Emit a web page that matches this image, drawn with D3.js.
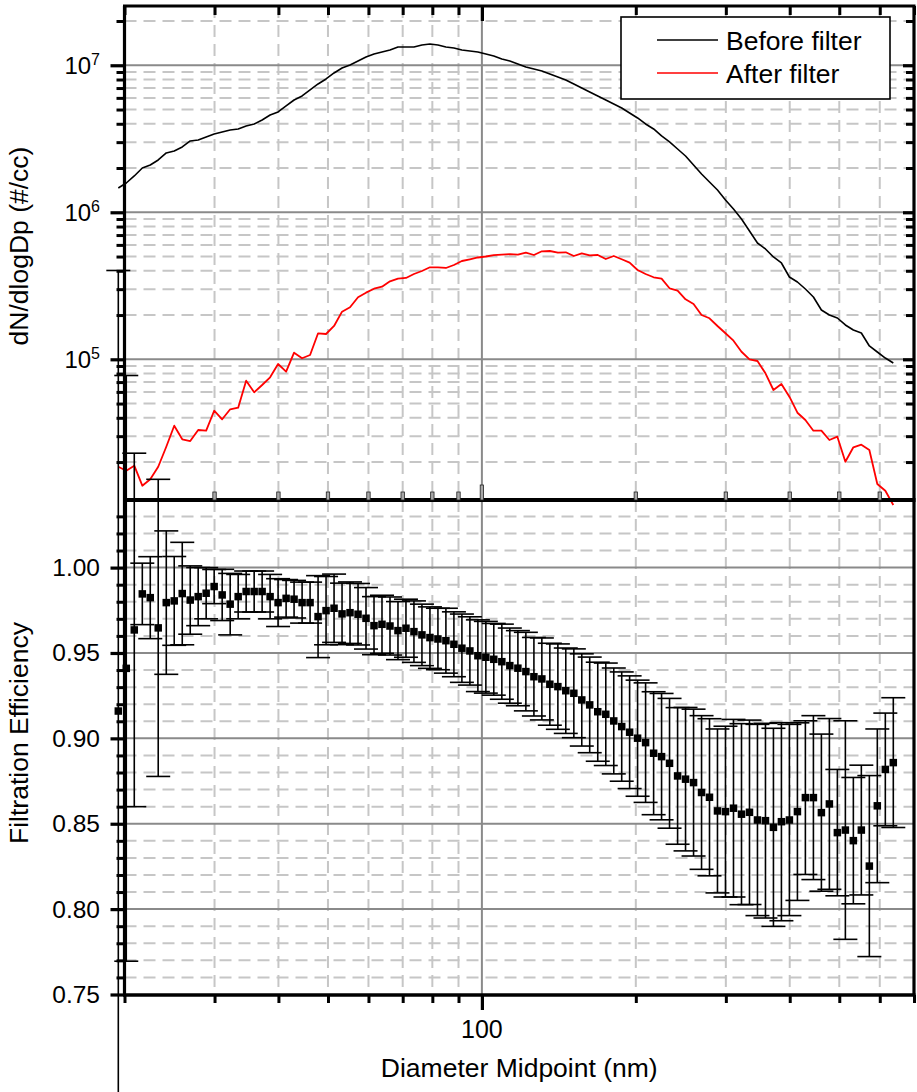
<!DOCTYPE html>
<html>
<head>
<meta charset="utf-8">
<script src="https://cdn.jsdelivr.net/npm/d3@7"></script>
<style>
  body { margin: 0; background: #fff; }
  svg { display: block; font-family: "Liberation Sans", Arial, sans-serif; }
</style>
</head>
<body>
<svg id="chart" width="917" height="1092"></svg>
<script>
// Diameter midpoints (nm), 64 channels per decade
const diameters = [
  19.45, 20.16, 20.90, 21.67, 22.46, 23.28, 24.14, 25.02, 25.94, 26.89,
  27.87, 28.89, 29.95, 31.05, 32.19, 33.37, 34.59, 35.86, 37.17, 38.53,
  39.94, 41.41, 42.92, 44.50, 46.13, 47.82, 49.57, 51.39, 53.27, 55.22,
  57.25, 59.34, 61.52, 63.77, 66.11, 68.53, 71.04, 73.64, 76.34, 79.14,
  82.04, 85.04, 88.16, 91.39, 94.74, 98.21, 101.8, 105.5, 109.4, 113.4,
  117.6, 121.9, 126.4, 131.0, 135.8, 140.8, 145.9, 151.3, 156.8, 162.5,
  168.5, 174.7, 181.1, 187.7, 194.5, 201.6, 209.0, 216.7, 224.6, 232.8,
  241.4, 250.2, 259.4, 268.9, 278.7, 288.9, 299.5, 310.5, 321.9, 333.7,
  345.9, 358.6, 371.7, 385.3, 399.4, 414.1, 429.2, 445.0, 461.3, 478.2,
  495.7, 513.9, 532.7, 552.2, 572.5, 593.4, 615.2, 637.7
];

// dN/dlogDp upstream of the filter (#/cc)
const beforeFilter = [
  1.463e6, 1.582e6, 1.766e6, 2.001e6, 2.098e6, 2.269e6, 2.532e6, 2.612e6, 2.782e6, 3.055e6,
  3.103e6, 3.252e6, 3.410e6, 3.518e6, 3.630e6, 3.687e6, 3.865e6, 3.988e6, 4.246e6, 4.591e6,
  4.812e6, 5.285e6, 5.805e6, 6.181e6, 6.792e6, 7.460e6, 8.068e6, 8.863e6, 9.585e6, 1.005e7,
  1.070e7, 1.139e7, 1.194e7, 1.232e7, 1.271e7, 1.332e7, 1.332e7, 1.332e7, 1.374e7, 1.396e7,
  1.374e7, 1.332e7, 1.311e7, 1.271e7, 1.251e7, 1.232e7, 1.194e7, 1.157e7, 1.104e7, 1.070e7,
  1.020e7, 9.737e6, 9.437e6, 9.146e6, 8.725e6, 8.324e6, 7.943e6, 7.460e6, 7.008e6, 6.581e6,
  6.181e6, 5.805e6, 5.453e6, 5.122e6, 4.737e6, 4.381e6, 3.988e6, 3.687e6, 3.304e6, 3.008e6,
  2.695e6, 2.415e6, 2.098e6, 1.822e6, 1.607e6, 1.418e6, 1.212e6, 1.053e6, 9.003e5, 7.461e5,
  6.182e5, 5.629e5, 4.966e5, 4.520e5, 3.630e5, 3.357e5, 3.008e5, 2.653e5, 2.165e5, 2.002e5,
  1.910e5, 1.712e5, 1.582e5, 1.510e5, 1.232e5, 1.121e5, 1.020e5, 9.437e4
];

// dN/dlogDp downstream of the filter (#/cc)
const afterFilter = [
  1.859e4, 1.747e4, 1.889e4, 1.381e4, 1.527e4, 1.859e4, 2.543e4, 3.535e4, 2.856e4, 2.781e4,
  3.304e4, 3.268e4, 4.470e4, 3.907e4, 4.570e4, 4.685e4, 7.151e4, 5.963e4, 6.687e4, 7.545e4,
  9.291e4, 8.235e4, 1.109e5, 1.016e5, 1.070e5, 1.503e5, 1.486e5, 1.685e5, 2.108e5, 2.258e5,
  2.641e5, 2.839e5, 3.022e5, 3.118e5, 3.394e5, 3.535e5, 3.574e5, 3.804e5, 3.988e5, 4.226e5,
  4.226e5, 4.180e5, 4.381e5, 4.663e5, 4.789e5, 4.926e5, 5.004e5, 5.107e5, 5.147e5, 5.188e5,
  5.147e5, 5.311e5, 5.122e5, 5.428e5, 5.453e5, 5.311e5, 5.344e5, 5.043e5, 5.262e5, 5.098e5,
  5.122e5, 4.811e5, 5.043e5, 4.789e5, 4.541e5, 4.051e5, 3.804e5, 3.613e5, 3.535e5, 3.041e5,
  2.929e5, 2.559e5, 2.378e5, 2.002e5, 1.901e5, 1.685e5, 1.503e5, 1.338e5, 1.126e5, 1.000e5,
  9.737e4, 8.029e4, 6.182e4, 6.792e4, 5.565e4, 4.332e4, 3.865e4, 3.268e4, 3.268e4, 2.825e4,
  2.975e4, 2.011e4, 2.520e4, 2.624e4, 2.415e4, 1.418e4, 1.277e4, 1.020e4
];

// Filtration efficiency per channel and its uncertainty (+/-)
const efficiency = [
  0.916, 0.941, 0.9635, 0.9846, 0.9824, 0.9647, 0.9795, 0.9805, 0.9848, 0.981,
  0.983, 0.985, 0.9889, 0.984, 0.9786, 0.983, 0.986, 0.986, 0.986, 0.983,
  0.9795, 0.982, 0.9815, 0.9795, 0.9795, 0.9713, 0.9748, 0.9762, 0.9729, 0.9736,
  0.9727, 0.9703, 0.966, 0.9668, 0.9658, 0.9631, 0.9645, 0.9625, 0.9606, 0.959,
  0.9582, 0.9572, 0.9551, 0.9528, 0.9512, 0.9484, 0.9475, 0.9463, 0.9449, 0.9426,
  0.9411, 0.9391, 0.9361, 0.9348, 0.9317, 0.9303, 0.9279, 0.9264, 0.9225, 0.9196,
  0.9156, 0.9141, 0.9102, 0.9069, 0.9036, 0.9001, 0.8975, 0.8913, 0.8893, 0.8854,
  0.878, 0.8761, 0.8741, 0.8683, 0.8655, 0.8575, 0.8571, 0.8591, 0.8556, 0.8567,
  0.8522, 0.8518, 0.8479, 0.8512, 0.8522, 0.8571, 0.8653, 0.8653, 0.8565, 0.8616,
  0.8448, 0.8463, 0.8401, 0.8463, 0.8252, 0.8605, 0.8818, 0.8858
];
const efficiencyError = [
  0.258, 0.1715, 0.1035, 0.018, 0.024, 0.087, 0.042, 0.026, 0.03, 0.02,
  0.017, 0.015, 0.01, 0.015, 0.018, 0.013, 0.012, 0.012, 0.012, 0.013,
  0.014, 0.011, 0.011, 0.012, 0.012, 0.024, 0.02, 0.02, 0.018, 0.018,
  0.018, 0.018, 0.017, 0.017, 0.017, 0.017, 0.017, 0.018, 0.018, 0.018,
  0.018, 0.019, 0.019, 0.02, 0.02, 0.021, 0.021, 0.021, 0.022, 0.022,
  0.022, 0.023, 0.023, 0.024, 0.024, 0.025, 0.025, 0.026, 0.027, 0.028,
  0.029, 0.03, 0.031, 0.032, 0.033, 0.034, 0.035, 0.036, 0.037, 0.038,
  0.04, 0.042, 0.043, 0.045, 0.046, 0.048, 0.05, 0.052, 0.053, 0.054,
  0.056, 0.057, 0.058, 0.058, 0.056, 0.052, 0.045, 0.048, 0.046, 0.05,
  0.037, 0.064, 0.037, 0.038, 0.053, 0.045, 0.033, 0.038
];

// Axis ticks
const xMinorTicks = [20, 30, 40, 50, 60, 70, 80, 90, 200, 300, 400, 500, 600, 700];
const xMajorTicks = [100];
const topMajorTicks = [1e5, 1e6, 1e7];
const topMinorTicks = [2e4, 3e4, 4e4, 5e4, 6e4, 7e4, 8e4, 9e4,
  2e5, 3e5, 4e5, 5e5, 6e5, 7e5, 8e5, 9e5,
  2e6, 3e6, 4e6, 5e6, 6e6, 7e6, 8e6, 9e6, 2e7];
const bottomMajorTicks = [0.75, 0.80, 0.85, 0.90, 0.95, 1.00];
const bottomMinorTicks = [0.76, 0.77, 0.78, 0.79, 0.81, 0.82, 0.83, 0.84, 0.86, 0.87, 0.88, 0.89,
  0.91, 0.92, 0.93, 0.94, 0.96, 0.97, 0.98, 0.99, 1.01, 1.02, 1.03];

const legendItems = [
  { label: "Before filter", color: "#000000" },
  { label: "After filter", color: "#ff0000" }
];

const svg = d3.select("#chart");

const L = 124.5, R = 914, T = 6, MID = 500, B = 995;
const x = d3.scaleLog().domain([20, 700]).range([L, R]);
const yTop = d3.scaleLog().domain([1.104e4, 2.53e7]).range([MID, T]);
const yBot = d3.scaleLinear().domain([0.75, 1.04]).range([994.5, 499.3]);

const majorGrid = "#8a8a8a", minorGrid = "#c6c6c6";

// ---------- grid lines ----------
const grid = svg.append("g");
function hLines(vals, scale, color, dashed) {
  grid.append("g").selectAll("line").data(vals).join("line")
    .attr("x1", L).attr("x2", R)
    .attr("y1", d => scale(d)).attr("y2", d => scale(d))
    .attr("stroke", color).attr("stroke-width", 2)
    .attr("stroke-dasharray", dashed ? "12,7" : null);
}
function vLines(vals, y0, y1, color, dashed) {
  grid.append("g").selectAll("line").data(vals).join("line")
    .attr("x1", d => x(d)).attr("x2", d => x(d))
    .attr("y1", y0).attr("y2", y1)
    .attr("stroke", color).attr("stroke-width", 2)
    .attr("stroke-dasharray", dashed ? "12,7" : null);
}
const xDashed = xMinorTicks.filter(d => d > 20 && d < 700);
hLines(topMinorTicks, yTop, minorGrid, true);
hLines(bottomMinorTicks, yBot, minorGrid, true);
vLines(xDashed, T, MID, minorGrid, true);
vLines(xDashed, MID, B, minorGrid, true);
hLines(topMajorTicks, yTop, majorGrid, false);
hLines(bottomMajorTicks.filter(d => d > 0.75), yBot, majorGrid, false);
vLines(xMajorTicks, T, B, majorGrid, false);

// ---------- size distributions ----------
const lineGen = series => d3.line()
  .x((d, i) => x(diameters[i]))
  .y(d => yTop(d))(series);

svg.append("path").attr("d", lineGen(beforeFilter))
  .attr("fill", "none").attr("stroke", "#000").attr("stroke-width", 1.6)
  .attr("stroke-linejoin", "round");
svg.append("path").attr("d", lineGen(afterFilter))
  .attr("fill", "none").attr("stroke", "#ff0000").attr("stroke-width", 1.8)
  .attr("stroke-linejoin", "round");

// ---------- filtration efficiency with error bars ----------
const pts = diameters.map((d, i) => ({ d, v: efficiency[i], e: efficiencyError[i] }));
const eb = svg.append("g").attr("stroke", "#000").attr("stroke-width", 1.6);
eb.selectAll("line.stem").data(pts).join("line").attr("class", "stem")
  .attr("x1", p => x(p.d)).attr("x2", p => x(p.d))
  .attr("y1", p => yBot(p.v + p.e)).attr("y2", p => yBot(p.v - p.e));
const capW = 12;
eb.selectAll("line.capHi").data(pts).join("line").attr("class", "capHi")
  .attr("x1", p => x(p.d) - capW).attr("x2", p => x(p.d) + capW)
  .attr("y1", p => yBot(p.v + p.e)).attr("y2", p => yBot(p.v + p.e));
eb.selectAll("line.capLo").data(pts).join("line").attr("class", "capLo")
  .attr("x1", p => x(p.d) - capW).attr("x2", p => x(p.d) + capW)
  .attr("y1", p => yBot(p.v - p.e)).attr("y2", p => yBot(p.v - p.e));
const sq = 7.5;
svg.append("g").selectAll("rect").data(pts).join("rect")
  .attr("x", p => x(p.d) - sq / 2).attr("y", p => yBot(p.v) - sq / 2)
  .attr("width", sq).attr("height", sq).attr("fill", "#000");

// ---------- axes ----------
const axisStyle = (g, w) => {
  g.select(".domain").remove();
  g.selectAll(".tick line").attr("stroke", "#000").attr("stroke-width", w);
  g.selectAll(".tick text").remove();
};
// left axes (outward ticks)
svg.append("g").attr("transform", `translate(${L},0)`)
  .call(d3.axisLeft(yTop).tickValues(topMajorTicks).tickSize(14))
  .call(g => axisStyle(g, 3.2));
svg.append("g").attr("transform", `translate(${L},0)`)
  .call(d3.axisLeft(yTop).tickValues(topMinorTicks).tickSize(8))
  .call(g => axisStyle(g, 3));
svg.append("g").attr("transform", `translate(${L},0)`)
  .call(d3.axisLeft(yBot).tickValues(bottomMajorTicks).tickSize(14))
  .call(g => axisStyle(g, 3.2));
svg.append("g").attr("transform", `translate(${L},0)`)
  .call(d3.axisLeft(yBot).tickValues(bottomMinorTicks).tickSize(8))
  .call(g => axisStyle(g, 3));
// right axis of the upper panel (inward ticks)
svg.append("g").attr("transform", `translate(${R},0)`)
  .call(d3.axisLeft(yTop).tickValues(topMajorTicks).tickSize(11))
  .call(g => axisStyle(g, 3.2));
svg.append("g").attr("transform", `translate(${R},0)`)
  .call(d3.axisLeft(yTop).tickValues(topMinorTicks).tickSize(8))
  .call(g => axisStyle(g, 3));
// top axis (inward ticks)
svg.append("g").attr("transform", `translate(0,${T})`)
  .call(d3.axisBottom(x).tickValues(xMajorTicks).tickSize(15))
  .call(g => axisStyle(g, 3.2));
svg.append("g").attr("transform", `translate(0,${T})`)
  .call(d3.axisBottom(x).tickValues(xMinorTicks).tickSize(9))
  .call(g => axisStyle(g, 3));
// bottom axis (outward ticks)
svg.append("g").attr("transform", `translate(0,${B})`)
  .call(d3.axisBottom(x).tickValues(xMajorTicks).tickSize(15))
  .call(g => axisStyle(g, 3.2));
svg.append("g").attr("transform", `translate(0,${B})`)
  .call(d3.axisBottom(x).tickValues(xMinorTicks).tickSize(8))
  .call(g => axisStyle(g, 3));

// panel frames
const frame = svg.append("g").attr("stroke", "#000").attr("fill", "none");
frame.append("line").attr("x1", L - 1.5).attr("x2", R + 1.5).attr("y1", T).attr("y2", T).attr("stroke-width", 3.2);
frame.append("line").attr("x1", L).attr("x2", L).attr("y1", T).attr("y2", B).attr("stroke-width", 3.2);
frame.append("line").attr("x1", R).attr("x2", R).attr("y1", T).attr("y2", B).attr("stroke-width", 3.2);
frame.append("line").attr("x1", L - 1.5).attr("x2", R + 1.5).attr("y1", MID).attr("y2", MID).attr("stroke-width", 4);
frame.append("line").attr("x1", L - 1.5).attr("x2", R + 1.5).attr("y1", B).attr("y2", B).attr("stroke-width", 3.4);

// shared x ticks on the panel boundary
const midTicks = svg.append("g");
midTicks.selectAll("rect").data(xMinorTicks.filter(d => d > 20 && d < 700).concat(xMajorTicks)).join("rect")
  .attr("x", d => x(d) - 1.7).attr("width", 3.4)
  .attr("y", d => d === 100 ? MID - 15 : MID - 8)
  .attr("height", d => d === 100 ? 15 : 8)
  .attr("fill", "#a8a8a8").attr("stroke", "#222").attr("stroke-width", 0.8);

// ---------- tick labels ----------
const lab = svg.append("g").attr("fill", "#000");
const topLab = lab.selectAll("text.top").data(topMajorTicks).join("text")
  .attr("class", "top")
  .attr("text-anchor", "end")
  .attr("x", 100).attr("y", d => yTop(d) + 9)
  .attr("font-size", 24);
topLab.append("tspan").text("10");
topLab.append("tspan").attr("font-size", 16).attr("dy", -9)
  .text(d => Math.round(Math.log10(d)));

lab.selectAll("text.bot").data(bottomMajorTicks).join("text")
  .attr("class", "bot")
  .attr("text-anchor", "end")
  .attr("x", 100).attr("y", d => yBot(d) + 8.5)
  .attr("font-size", 24.5)
  .text(d3.format(".2f"));

lab.selectAll("text.xl").data(xMajorTicks).join("text")
  .attr("class", "xl")
  .attr("text-anchor", "middle")
  .attr("x", d => x(d)).attr("y", 1038)
  .attr("font-size", 25)
  .text(d => d);

// axis titles
svg.append("text").attr("x", (L + R) / 2).attr("y", 1077)
  .attr("text-anchor", "middle").attr("font-size", 26.5)
  .text("Diameter Midpoint (nm)");
svg.append("text").attr("transform", `translate(28,246) rotate(-90)`)
  .attr("text-anchor", "middle").attr("font-size", 26.5)
  .text("dN/dlogDp (#/cc)");
svg.append("text").attr("transform", `translate(28,733) rotate(-90)`)
  .attr("text-anchor", "middle").attr("font-size", 26.5)
  .text("Filtration Efficiency");

// ---------- legend ----------
const lg = svg.append("g");
lg.append("rect").attr("x", 621).attr("y", 17).attr("width", 269).attr("height", 82)
  .attr("fill", "#fff").attr("stroke", "#000").attr("stroke-width", 1.6);
const li = lg.selectAll("g.item").data(legendItems).join("g").attr("class", "item")
  .attr("transform", (d, i) => `translate(0,${40 + i * 33})`);
li.append("line").attr("x1", 657).attr("x2", 718).attr("y1", 0).attr("y2", 0)
  .attr("stroke", d => d.color).attr("stroke-width", 1.6);
li.append("text").attr("x", 726).attr("y", 9.5).attr("font-size", 26.5).text(d => d.label);
</script>
</body>
</html>
